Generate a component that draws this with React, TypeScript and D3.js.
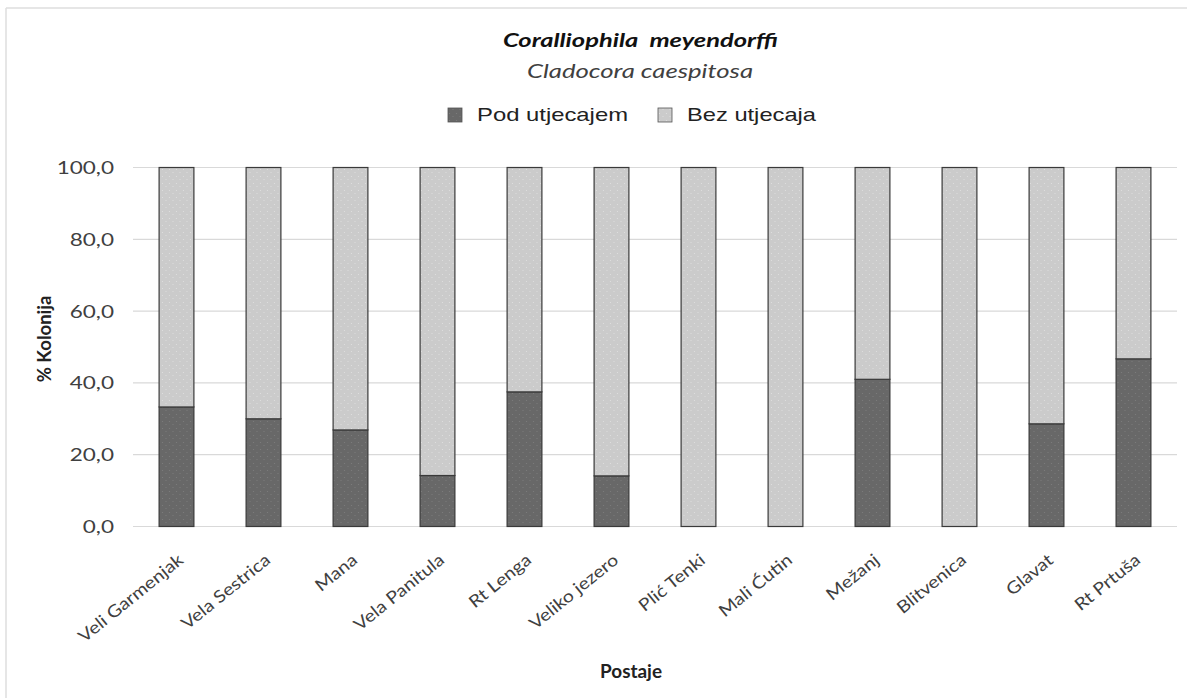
import React from "react";
import * as d3 from "d3";

const stations = [
  "Veli Garmenjak", "Vela Sestrica", "Mana", "Vela Panitula", "Rt Lenga", "Veliko jezero",
  "Plić Tenki", "Mali Ćutin", "Mežanj", "Blitvenica", "Glavat", "Rt Prtuša",
];
const podUtjecajem = [33.3, 30.0, 26.9, 14.2, 37.5, 14.1, 0, 0, 41.0, 0, 28.6, 46.7];
const bezUtjecaja = podUtjecajem.map((v) => 100 - v);
const yTicks = [0, 20, 40, 60, 80, 100];
const seriesNames = ["Pod utjecajem", "Bez utjecaja"];
const seriesColors = ["#686868", "#cbcbcb"];

const W = 1187, H = 698;
const plot = { left: 133, right: 1177, top: 167.5, bottom: 526.5 };
const font = "Lato, 'Open Sans', sans-serif";
const SX = 1.25;

export default function App() {
  const x = d3.scaleBand<string>().domain(stations).range([plot.left, plot.right]).paddingInner(0.6).paddingOuter(0.3);
  const y = d3.scaleLinear().domain([0, 100]).range([plot.bottom, plot.top]);
  const fmt = (v: number) => v.toFixed(1).replace(".", ",");
  const stack = d3.stack<number>().keys([0, 1]).value((i, k) => (k === 0 ? podUtjecajem[i] : bezUtjecaja[i]));
  const layers = stack(d3.range(stations.length));
  const legendX = [448, 658];
  const legendLen = [151, 129];

  return (
    <svg width={W} height={H} style={{ position: "absolute", left: 0, top: 0, background: "#fff" }} fontFamily={font}>
      <defs>
        {seriesColors.map((c, i) => (
          <pattern key={i} id={`pat${i}`} width={7} height={7} patternUnits="userSpaceOnUse">
            <rect width={7} height={7} fill={c} />
            <circle cx={1.5} cy={1.5} r={0.6} fill={i === 0 ? "#7e7e7e" : "#e0e0e0"} />
            <circle cx={5} cy={4.5} r={0.6} fill={i === 0 ? "#7e7e7e" : "#e0e0e0"} />
          </pattern>
        ))}
      </defs>
      <line x1={6} y1={8} x2={W} y2={8} stroke="#dedede" strokeWidth={1.5} />
      <line x1={6} y1={8} x2={6} y2={H} stroke="#dedede" strokeWidth={1.5} />

      <text x={503} y={47} fontSize={18.5} fontWeight="bold" fontStyle="italic" fill="#111"
        textLength={275} lengthAdjust="spacingAndGlyphs" style={{ whiteSpace: "pre" }}>{"Coralliophila\u00a0\u00a0meyendorffi"}</text>
      <text x={527} y={78} fontSize={20} fontStyle="italic" fill="#404040"
        textLength={226} lengthAdjust="spacingAndGlyphs">Cladocora caespitosa</text>

      {seriesNames.map((n, i) => {
        const lx = legendX[i];
        return (
          <g key={n}>
            <rect x={lx} y={108} width={14} height={14} fill={`url(#pat${i})`} stroke="#555" strokeWidth={0.8} />
            <text x={lx + 29} y={121} fontSize={18.5} fontFamily="'Liberation Sans', Arial, sans-serif" fill="#222"
              textLength={legendLen[i]} lengthAdjust="spacingAndGlyphs">{n}</text>
          </g>
        );
      })}

      {yTicks.map((t) => (
        <g key={t}>
          <line x1={plot.left} x2={plot.right} y1={y(t)} y2={y(t)} stroke="#d9d9d9" strokeWidth={1.2} />
          <text transform={`translate(114,${y(t) + 6.5}) scale(${SX},1)`} textAnchor="end" fontSize={18} fill="#404040">{fmt(t)}</text>
        </g>
      ))}

      {layers.map((layer, li) => (
        <g key={li}>
          {layer.map((d, i) => {
            const h = y(d[0]) - y(d[1]);
            if (h <= 0) return null;
            return (
              <rect key={i} x={x(stations[i])!} y={y(d[1])} width={x.bandwidth()} height={h}
                fill={`url(#pat${li})`} stroke="#3a3a3a" strokeWidth={1.2} />
            );
          })}
        </g>
      ))}

      {stations.map((s) => {
        const cx = x(s)! + x.bandwidth() / 2;
        return (
          <text key={s} transform={`translate(${cx + 8},${562}) rotate(-39) scale(1.15,1)`} textAnchor="end" fontSize={17} fill="#404040">{s}</text>
        );
      })}

      <text x={600} y={678} fontSize={18} fontWeight="bold" fill="#222" textLength={62} lengthAdjust="spacingAndGlyphs">Postaje</text>
      <text transform={`translate(51,339) rotate(-90)`} textAnchor="middle" fontSize={18.5} fontWeight="bold" fill="#222">% Kolonija</text>
    </svg>
  );
}
